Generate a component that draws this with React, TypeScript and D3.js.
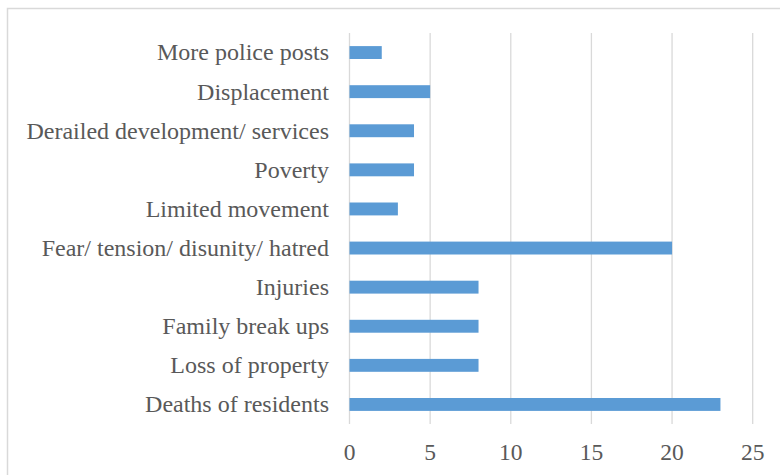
import React from "react";
import * as d3 from "d3";

const categories = [
  "More police posts",
  "Displacement",
  "Derailed development/ services",
  "Poverty",
  "Limited movement",
  "Fear/ tension/ disunity/ hatred",
  "Injuries",
  "Family break ups",
  "Loss of property",
  "Deaths of residents",
];
const values = [2, 5, 4, 4, 3, 20, 8, 8, 8, 23];
const xTicks = [0, 5, 10, 15, 20, 25];

export default function App() {
  const W = 780;
  const H = 475;
  const x = d3.scaleLinear().domain([0, 25]).range([349.5, 752.7]);
  const y = d3.scaleBand<string>().domain(categories).range([33, 424]).paddingInner(0.67).paddingOuter(0.335);
  const font = "'Liberation Serif', 'Times New Roman', serif";
  return (
    <svg width={W} height={H} style={{ position: "absolute", left: 0, top: 0, background: "#fff" }}>
      <rect x={7.5} y={8.5} width={W} height={H} fill="#fff" stroke="#d9d9d9" strokeWidth={1.5} />
      {xTicks.map((t) => (
        <line key={t} x1={x(t)} x2={x(t)} y1={33} y2={424} stroke="#d9d9d9" strokeWidth={1.3} />
      ))}
      {categories.map((c, i) => (
        <rect key={c} x={x(0)} y={y(c)} width={x(values[i]) - x(0)} height={y.bandwidth()} fill="#5b9bd5" />
      ))}
      {categories.map((c) => (
        <text key={c} x={329} y={(y(c) as number) + y.bandwidth() / 2} dy="0.33em" textAnchor="end" fontFamily={font} fontSize={24} fill="#595959">
          {c}
        </text>
      ))}
      {xTicks.map((t) => (
        <text key={t} x={x(t)} y={452} dy="0.33em" textAnchor="middle" fontFamily={font} fontSize={23.5} fill="#595959">
          {t}
        </text>
      ))}
    </svg>
  );
}
